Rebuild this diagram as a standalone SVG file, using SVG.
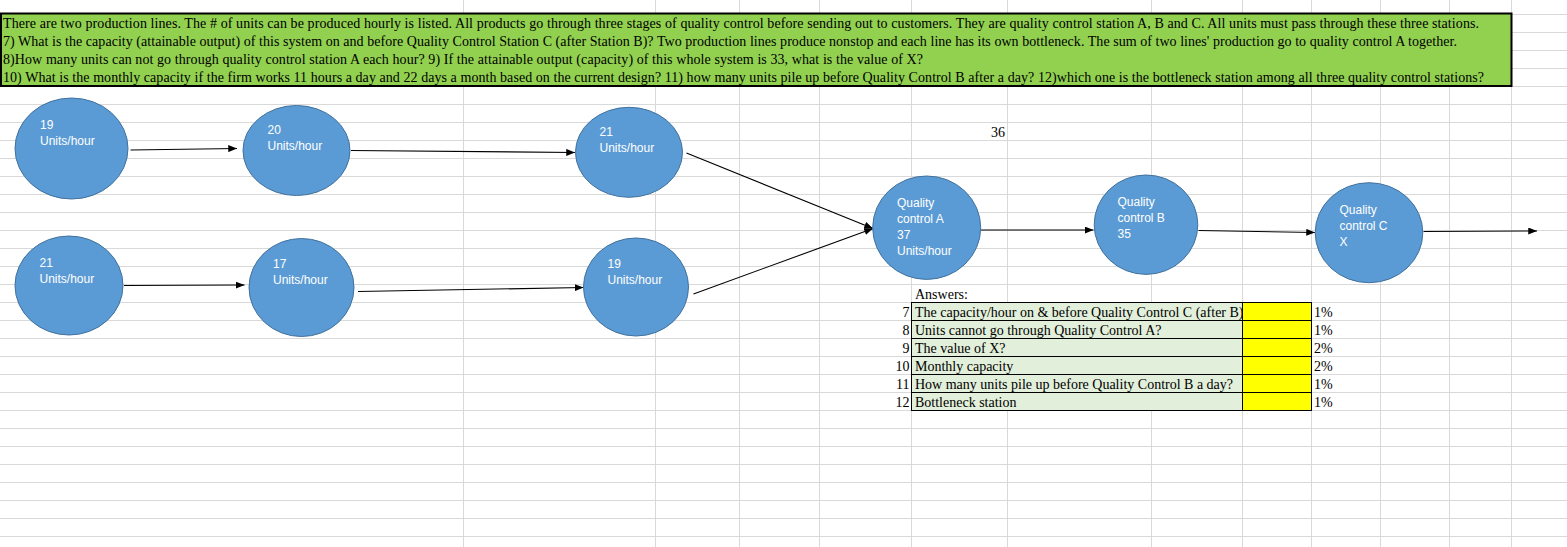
<svg xmlns="http://www.w3.org/2000/svg" width="1567" height="547" viewBox="0 0 1567 547">
<style>
.grid line{stroke:#d9d9d9;stroke-width:1}
.hdr{font-family:"Liberation Serif","Times New Roman",serif;font-size:14px;fill:#000}
.node ellipse{fill:#5b9bd5;stroke:#41719c;stroke-width:1}
.node text{font-family:"Liberation Sans",Arial,sans-serif;font-size:12px;fill:#fff}
.conn line{stroke:#000;stroke-width:1.1;fill:none}
.lbl{fill:#e2efda;stroke:#000;stroke-width:1}
.ans{fill:#ffff00;stroke:#000;stroke-width:1}
.num{text-anchor:end}
</style>
<defs>
<marker id="ah" viewBox="0 0 10 8" refX="10" refY="4" markerWidth="9" markerHeight="7" markerUnits="userSpaceOnUse" orient="auto">
<path d="M0,0 L10,4 L0,8 Z" fill="#000"/>
</marker>
<clipPath id="c7"><rect x="912" y="303" width="330" height="17"/></clipPath>
</defs>
<rect x="0" y="0" width="1567" height="547" fill="#fff"/>
<g class="grid" id="grid">
<line x1="0" y1="14.5" x2="1567" y2="14.5"/><line x1="0" y1="32.5" x2="1567" y2="32.5"/><line x1="0" y1="50.5" x2="1567" y2="50.5"/><line x1="0" y1="68.5" x2="1567" y2="68.5"/><line x1="0" y1="86.5" x2="1567" y2="86.5"/><line x1="0" y1="104.5" x2="1567" y2="104.5"/><line x1="0" y1="122.5" x2="1567" y2="122.5"/><line x1="0" y1="140.5" x2="1567" y2="140.5"/><line x1="0" y1="158.5" x2="1567" y2="158.5"/><line x1="0" y1="176.5" x2="1567" y2="176.5"/><line x1="0" y1="194.5" x2="1567" y2="194.5"/><line x1="0" y1="212.5" x2="1567" y2="212.5"/><line x1="0" y1="230.5" x2="1567" y2="230.5"/><line x1="0" y1="248.5" x2="1567" y2="248.5"/><line x1="0" y1="266.5" x2="1567" y2="266.5"/><line x1="0" y1="284.5" x2="1567" y2="284.5"/><line x1="0" y1="302.5" x2="1567" y2="302.5"/><line x1="0" y1="320.5" x2="1567" y2="320.5"/><line x1="0" y1="338.5" x2="1567" y2="338.5"/><line x1="0" y1="356.5" x2="1567" y2="356.5"/><line x1="0" y1="374.5" x2="1567" y2="374.5"/><line x1="0" y1="392.5" x2="1567" y2="392.5"/><line x1="0" y1="410.5" x2="1567" y2="410.5"/><line x1="0" y1="428.5" x2="1567" y2="428.5"/><line x1="0" y1="446.5" x2="1567" y2="446.5"/><line x1="0" y1="464.5" x2="1567" y2="464.5"/><line x1="0" y1="482.5" x2="1567" y2="482.5"/><line x1="0" y1="500.5" x2="1567" y2="500.5"/><line x1="0" y1="518.5" x2="1567" y2="518.5"/><line x1="0" y1="536.5" x2="1567" y2="536.5"/>
<line x1="463.5" y1="0" x2="463.5" y2="547"/><line x1="655.5" y1="0" x2="655.5" y2="547"/><line x1="739.5" y1="0" x2="739.5" y2="547"/><line x1="819.5" y1="0" x2="819.5" y2="547"/><line x1="911.5" y1="0" x2="911.5" y2="547"/><line x1="1007.5" y1="0" x2="1007.5" y2="547"/><line x1="1151.5" y1="0" x2="1151.5" y2="547"/><line x1="1242.5" y1="0" x2="1242.5" y2="547"/><line x1="1311.5" y1="0" x2="1311.5" y2="547"/><line x1="1380.5" y1="0" x2="1380.5" y2="547"/><line x1="1449.5" y1="0" x2="1449.5" y2="547"/><line x1="1511.5" y1="0" x2="1511.5" y2="547"/>
</g>
<g id="header">
<rect x="1" y="13.5" width="1510.5" height="72.5" fill="#92d050" stroke="#000" stroke-width="2"/>
<text class="hdr" x="3" y="28" textLength="1476" lengthAdjust="spacing">There are two production lines. The # of units can be produced hourly is listed. All products go through three stages of quality control before sending out to customers. They are quality control station A, B and C. All units must pass through these three stations.</text>
<text class="hdr" x="3" y="46" textLength="1454" lengthAdjust="spacing">7) What is the capacity (attainable output) of this system on and before Quality Control Station C (after Station B)? Two production lines produce nonstop and each line has its own bottleneck. The sum of two lines' production go to quality control A together.</text>
<text class="hdr" x="3" y="64" textLength="920" lengthAdjust="spacing">8)How many units can not go through quality control station A each hour? 9) If the attainable output (capacity) of this whole system is 33, what is the value of X?</text>
<text class="hdr" x="3" y="82" textLength="1481" lengthAdjust="spacing">10) What is the monthly capacity if the firm works 11 hours a day and 22 days a month based on the current design? 11) how many units pile up before Quality Control B after a day? 12)which one is the bottleneck station among all three quality control stations?</text>
</g>
<text class="hdr" x="1005" y="137" text-anchor="end">36</text>
<g class="conn" id="connectors">
<line x1="130.5" y1="150" x2="237" y2="148.5" marker-end="url(#ah)"/>
<line x1="351" y1="150.5" x2="575" y2="152.5" marker-end="url(#ah)"/>
<line x1="124" y1="285.5" x2="244.5" y2="285" marker-end="url(#ah)"/>
<line x1="358" y1="291.5" x2="583.5" y2="287.5" marker-end="url(#ah)"/>
<line x1="686.5" y1="153" x2="873" y2="228.5" marker-end="url(#ah)"/>
<line x1="693.5" y1="294" x2="873" y2="228.5" marker-end="url(#ah)"/>
<line x1="981" y1="230" x2="1093.5" y2="230" marker-end="url(#ah)"/>
<line x1="1198.5" y1="230.5" x2="1315" y2="232.5" marker-end="url(#ah)"/>
<line x1="1423.5" y1="231.5" x2="1537" y2="231" marker-end="url(#ah)"/>
</g>
<g class="node" id="n1"><ellipse cx="71.5" cy="148.5" rx="56.5" ry="50.5"/><text x="40" y="128.5">19</text><text x="40" y="144.5">Units/hour</text></g>
<g class="node" id="n2"><ellipse cx="296.5" cy="150.5" rx="53.5" ry="45"/><text x="267.5" y="133.5">20</text><text x="267.5" y="149.5">Units/hour</text></g>
<g class="node" id="n3"><ellipse cx="629" cy="152.3" rx="53.5" ry="45"/><text x="599.5" y="136">21</text><text x="599.5" y="152">Units/hour</text></g>
<g class="node" id="n4"><ellipse cx="69" cy="285.5" rx="54" ry="49.5"/><text x="39.5" y="267">21</text><text x="39.5" y="283">Units/hour</text></g>
<g class="node" id="n5"><ellipse cx="301.5" cy="287.5" rx="52.5" ry="49"/><text x="273" y="268">17</text><text x="273" y="284">Units/hour</text></g>
<g class="node" id="n6"><ellipse cx="636" cy="287" rx="52.5" ry="49"/><text x="607.5" y="268">19</text><text x="607.5" y="284">Units/hour</text></g>
<g class="node" id="qa"><ellipse cx="926.7" cy="227.7" rx="54" ry="51.7"/><text x="897" y="207">Quality</text><text x="897" y="223">control A</text><text x="897" y="239">37</text><text x="897" y="255">Units/hour</text></g>
<g class="node" id="qb"><ellipse cx="1146" cy="224.7" rx="51.8" ry="49.7"/><text x="1117.5" y="206">Quality</text><text x="1117.5" y="222">control B</text><text x="1117.5" y="238">35</text></g>
<g class="node" id="qc"><ellipse cx="1369" cy="232.7" rx="53.8" ry="50"/><text x="1339.5" y="213.5">Quality</text><text x="1339.5" y="229.5">control C</text><text x="1339.5" y="245.5">X</text></g>
<g id="answers" class="hdr">
<text x="915" y="298.5">Answers:</text>
<rect class="lbl" x="911.5" y="302.5" width="331" height="18"/><rect class="ans" x="1242.5" y="302.5" width="69" height="18"/>
<rect class="lbl" x="911.5" y="320.5" width="331" height="18"/><rect class="ans" x="1242.5" y="320.5" width="69" height="18"/>
<rect class="lbl" x="911.5" y="338.5" width="331" height="18"/><rect class="ans" x="1242.5" y="338.5" width="69" height="18"/>
<rect class="lbl" x="911.5" y="356.5" width="331" height="18"/><rect class="ans" x="1242.5" y="356.5" width="69" height="18"/>
<rect class="lbl" x="911.5" y="374.5" width="331" height="18"/><rect class="ans" x="1242.5" y="374.5" width="69" height="18"/>
<rect class="lbl" x="911.5" y="392.5" width="331" height="18"/><rect class="ans" x="1242.5" y="392.5" width="69" height="18"/>
<text class="num" x="909.5" y="316.5">7</text><text class="num" x="909.5" y="334.5">8</text><text class="num" x="909.5" y="352.5">9</text><text class="num" x="909.5" y="370.5">10</text><text class="num" x="909.5" y="388.5">11</text><text class="num" x="909.5" y="406.5">12</text>
<text x="915" y="316.5" clip-path="url(#c7)">The capacity/hour on &amp; before Quality Control C (after B)</text>
<text x="915" y="334.5">Units cannot go through Quality Control A?</text>
<text x="915" y="352.5">The value of X?</text>
<text x="915" y="370.5">Monthly capacity</text>
<text x="915" y="388.5">How many units pile up before Quality Control B a day?</text>
<text x="915" y="406.5">Bottleneck station</text>
<text x="1314" y="316.5">1%</text><text x="1314" y="334.5">1%</text><text x="1314" y="352.5">2%</text><text x="1314" y="370.5">2%</text><text x="1314" y="388.5">1%</text><text x="1314" y="406.5">1%</text>
</g>
</svg>
